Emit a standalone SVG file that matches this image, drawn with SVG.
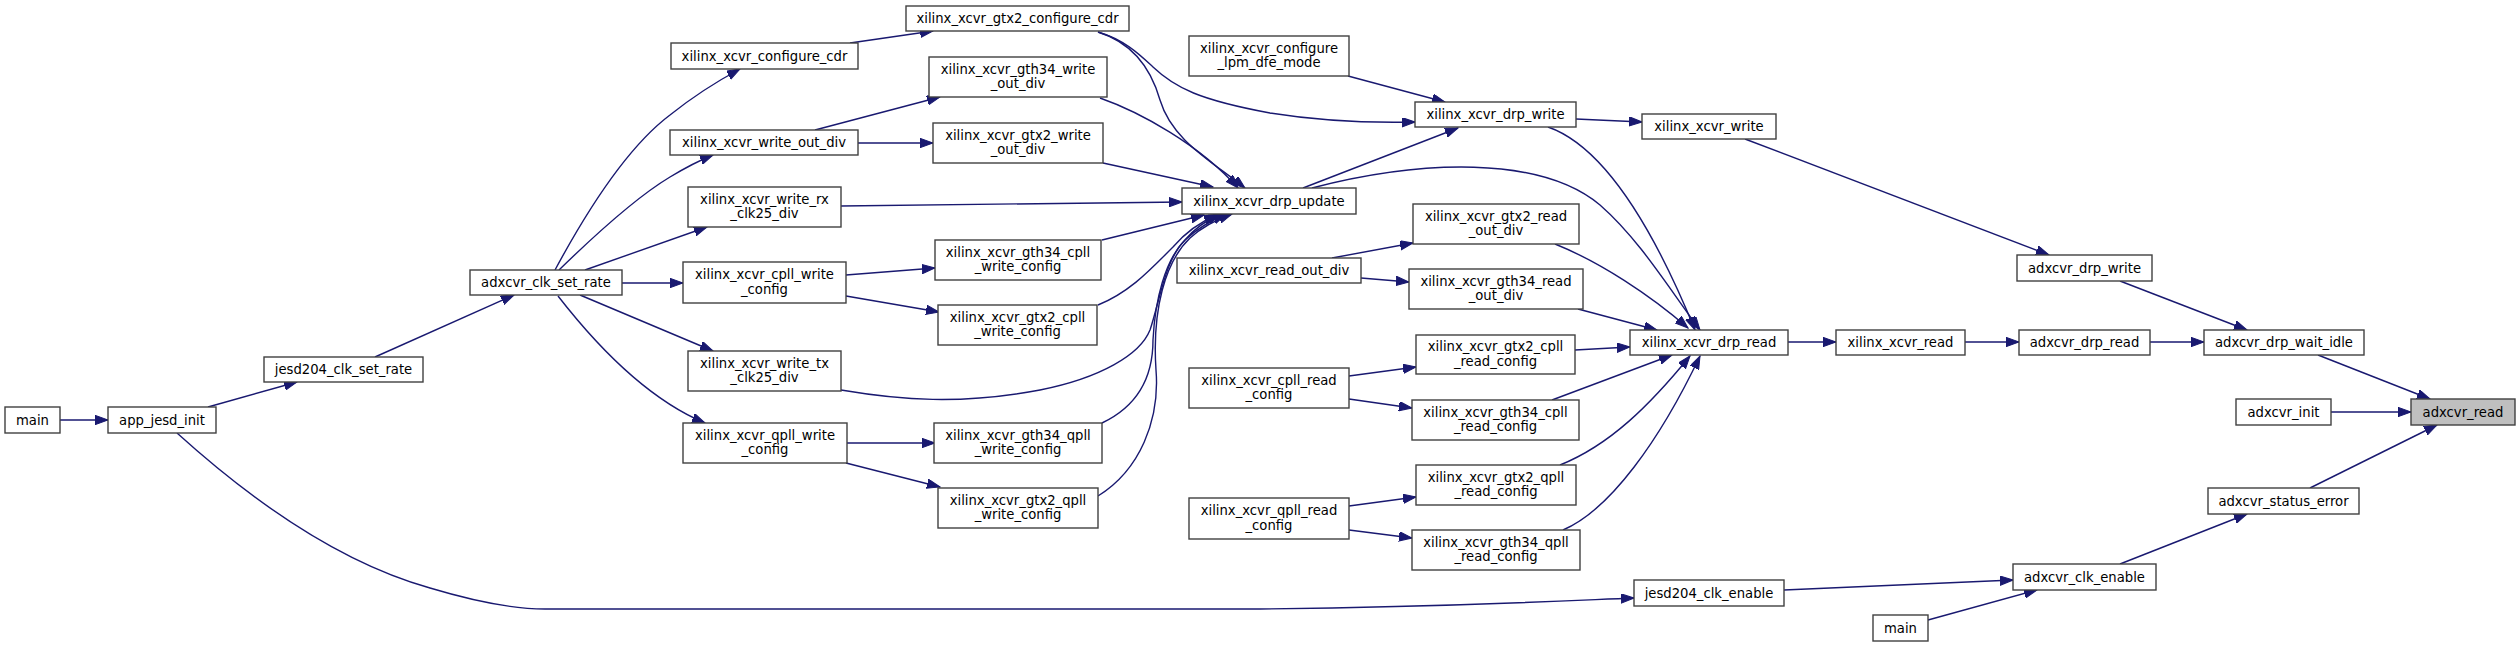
<svg xmlns="http://www.w3.org/2000/svg" width="2520" height="647" viewBox="0 0 2520 647">
<style>
.n rect{fill:#ffffff;stroke:#404040;stroke-width:1.4}
.n.hl rect{fill:#bfbfbf}
.n text{font-family:"DejaVu Sans",sans-serif;font-size:13.2px;fill:#000;text-anchor:middle}
.e path{fill:none;stroke:#191970;stroke-width:1.4;marker-end:url(#ah)}
</style>
<defs>
<marker id="ah" markerUnits="userSpaceOnUse" markerWidth="14" markerHeight="10" refX="13" refY="4.7" orient="auto">
<path d="M0,0 L13,4.7 L0,9.4 z" fill="#191970" stroke="#191970" stroke-width="1"/>
</marker>
</defs>
<rect width="2520" height="647" fill="#ffffff"/>
<g id="edges" class="e">
<path d="M60,420 L108,420"/>
<path d="M208,407 L297,382"/>
<path d="M177,433 C240,490 330,560 430,588 C470,600 510,609 545,609 L1260,609 C1450,607 1560,601 1634,598"/>
<path d="M375,357 L514,295"/>
<path d="M555,270 C590,205 630,145 670,115 C690,99 712,84 740,69"/>
<path d="M559,270 C600,230 640,195 670,177 C685,168 698,161 713,155"/>
<path d="M585,270 L707,227"/>
<path d="M622,283 L683,283"/>
<path d="M580,295 L713,351"/>
<path d="M558,296 C600,350 650,400 705,423"/>
<path d="M850,43 L933,31"/>
<path d="M815,130 L940,97"/>
<path d="M858,143 L933,143"/>
<path d="M846,275 L935,268"/>
<path d="M846,296 L939,312"/>
<path d="M847,443 L935,443"/>
<path d="M846,463 L940,487"/>
<path d="M1100,98 C1140,112 1200,145 1238,188"/>
<path d="M1098,32 C1130,42 1150,65 1160,100 C1172,140 1210,160 1245,188"/>
<path d="M1098,32 C1125,40 1140,55 1153,67 C1175,88 1200,100 1270,113 C1320,121 1370,123 1415,122"/>
<path d="M1103,163 L1213,187"/>
<path d="M841,206 L1182,202"/>
<path d="M1102,240 L1204,215"/>
<path d="M1098,305 C1130,292 1150,270 1173,247 C1185,233 1200,222 1217,215"/>
<path d="M841,390 C900,400 960,405 1040,390 C1100,378 1140,355 1150,330 C1160,300 1165,260 1185,240 C1195,228 1207,220 1220,214"/>
<path d="M1102,423 C1140,405 1153,375 1153,340 C1155,300 1165,260 1185,240 C1198,228 1212,220 1226,214"/>
<path d="M1098,496 C1140,470 1160,420 1156,370 C1152,310 1165,262 1190,238 C1203,226 1218,219 1232,214"/>
<path d="M1303,188 L1458,128"/>
<path d="M1312,188 C1420,160 1540,155 1600,205 C1640,240 1670,290 1700,330"/>
<path d="M1348,76 L1445,102"/>
<path d="M1576,119 L1642,122"/>
<path d="M1548,127 C1600,145 1650,220 1695,330"/>
<path d="M1555,244 C1600,262 1650,295 1688,328"/>
<path d="M1578,309 L1657,330"/>
<path d="M1332,258 L1413,243"/>
<path d="M1361,278 L1409,282"/>
<path d="M1575,350 L1630,347"/>
<path d="M1552,400 L1672,355"/>
<path d="M1560,465 C1610,445 1650,405 1690,356"/>
<path d="M1563,530 C1610,510 1660,440 1700,356"/>
<path d="M1349,376 L1416,367"/>
<path d="M1349,399 L1412,408"/>
<path d="M1349,506 L1416,497"/>
<path d="M1349,530 L1412,538"/>
<path d="M1788,342 L1836,342"/>
<path d="M1965,342 L2019,342"/>
<path d="M2150,342 L2204,342"/>
<path d="M1745,139 L2049,255"/>
<path d="M2120,281 L2247,330"/>
<path d="M2318,355 L2430,399"/>
<path d="M2331,412 L2411,412"/>
<path d="M2310,488 L2437,425"/>
<path d="M2120,564 L2247,514"/>
<path d="M1784,590 L2013,580"/>
<path d="M1928,620 L2037,590"/>
</g>
<g id="n_main1" class="n"><rect x="5" y="407" width="55" height="26"/><text x="32.5" y="424.5">main</text></g>
<g id="n_app_jesd_init" class="n"><rect x="108" y="407" width="108" height="26"/><text x="162" y="424.5">app_jesd_init</text></g>
<g id="n_jesd204_clk_set_rate" class="n"><rect x="264" y="357" width="159" height="25"/><text x="343.5" y="374">jesd204_clk_set_rate</text></g>
<g id="n_adxcvr_clk_set_rate" class="n"><rect x="470" y="270" width="152" height="25"/><text x="546" y="287">adxcvr_clk_set_rate</text></g>
<g id="n_configure_cdr" class="n"><rect x="671" y="43" width="187" height="26"/><text x="764.5" y="60.5">xilinx_xcvr_configure_cdr</text></g>
<g id="n_write_out_div" class="n"><rect x="670" y="130" width="188" height="25"/><text x="764" y="147">xilinx_xcvr_write_out_div</text></g>
<g id="n_write_rx_clk25_div" class="n"><rect x="688" y="187" width="153" height="40"/><text x="764.5" y="203.5">xilinx_xcvr_write_rx</text><text x="764.5" y="218">_clk25_div</text></g>
<g id="n_cpll_write_config" class="n"><rect x="683" y="262" width="163" height="41"/><text x="764.5" y="279">xilinx_xcvr_cpll_write</text><text x="764.5" y="293.5">_config</text></g>
<g id="n_write_tx_clk25_div" class="n"><rect x="688" y="351" width="153" height="40"/><text x="764.5" y="367.5">xilinx_xcvr_write_tx</text><text x="764.5" y="382">_clk25_div</text></g>
<g id="n_qpll_write_config" class="n"><rect x="683" y="423" width="164" height="40"/><text x="765" y="439.5">xilinx_xcvr_qpll_write</text><text x="765" y="454">_config</text></g>
<g id="n_gtx2_configure_cdr" class="n"><rect x="906" y="6" width="223" height="25"/><text x="1017.5" y="23">xilinx_xcvr_gtx2_configure_cdr</text></g>
<g id="n_gth34_write_out_div" class="n"><rect x="929" y="57" width="178" height="40"/><text x="1018" y="73.5">xilinx_xcvr_gth34_write</text><text x="1018" y="88">_out_div</text></g>
<g id="n_gtx2_write_out_div" class="n"><rect x="933" y="123" width="170" height="40"/><text x="1018" y="139.5">xilinx_xcvr_gtx2_write</text><text x="1018" y="154">_out_div</text></g>
<g id="n_gth34_cpll_write_config" class="n"><rect x="935" y="240" width="166" height="40"/><text x="1018" y="256.5">xilinx_xcvr_gth34_cpll</text><text x="1018" y="271">_write_config</text></g>
<g id="n_gtx2_cpll_write_config" class="n"><rect x="938" y="305" width="159" height="40"/><text x="1017.5" y="321.5">xilinx_xcvr_gtx2_cpll</text><text x="1017.5" y="336">_write_config</text></g>
<g id="n_gth34_qpll_write_config" class="n"><rect x="934" y="423" width="168" height="40"/><text x="1018" y="439.5">xilinx_xcvr_gth34_qpll</text><text x="1018" y="454">_write_config</text></g>
<g id="n_gtx2_qpll_write_config" class="n"><rect x="938" y="488" width="160" height="40"/><text x="1018" y="504.5">xilinx_xcvr_gtx2_qpll</text><text x="1018" y="519">_write_config</text></g>
<g id="n_drp_update" class="n"><rect x="1182" y="188" width="174" height="26"/><text x="1269" y="205.5">xilinx_xcvr_drp_update</text></g>
<g id="n_lpm_dfe_mode" class="n"><rect x="1189" y="36" width="160" height="40"/><text x="1269" y="52.5">xilinx_xcvr_configure</text><text x="1269" y="67">_lpm_dfe_mode</text></g>
<g id="n_read_out_div" class="n"><rect x="1177" y="258" width="184" height="25"/><text x="1269" y="275">xilinx_xcvr_read_out_div</text></g>
<g id="n_cpll_read_config" class="n"><rect x="1189" y="368" width="160" height="40"/><text x="1269" y="384.5">xilinx_xcvr_cpll_read</text><text x="1269" y="399">_config</text></g>
<g id="n_qpll_read_config" class="n"><rect x="1189" y="498" width="160" height="41"/><text x="1269" y="515">xilinx_xcvr_qpll_read</text><text x="1269" y="529.5">_config</text></g>
<g id="n_drp_write" class="n"><rect x="1415" y="102" width="161" height="25"/><text x="1495.5" y="119">xilinx_xcvr_drp_write</text></g>
<g id="n_gtx2_read_out_div" class="n"><rect x="1413" y="204" width="166" height="40"/><text x="1496" y="220.5">xilinx_xcvr_gtx2_read</text><text x="1496" y="235">_out_div</text></g>
<g id="n_gth34_read_out_div" class="n"><rect x="1409" y="269" width="174" height="40"/><text x="1496" y="285.5">xilinx_xcvr_gth34_read</text><text x="1496" y="300">_out_div</text></g>
<g id="n_gtx2_cpll_read_config" class="n"><rect x="1416" y="335" width="159" height="39"/><text x="1495.5" y="351">xilinx_xcvr_gtx2_cpll</text><text x="1495.5" y="365.5">_read_config</text></g>
<g id="n_gth34_cpll_read_config" class="n"><rect x="1412" y="400" width="167" height="40"/><text x="1495.5" y="416.5">xilinx_xcvr_gth34_cpll</text><text x="1495.5" y="431">_read_config</text></g>
<g id="n_gtx2_qpll_read_config" class="n"><rect x="1416" y="465" width="160" height="40"/><text x="1496" y="481.5">xilinx_xcvr_gtx2_qpll</text><text x="1496" y="496">_read_config</text></g>
<g id="n_gth34_qpll_read_config" class="n"><rect x="1412" y="530" width="168" height="40"/><text x="1496" y="546.5">xilinx_xcvr_gth34_qpll</text><text x="1496" y="561">_read_config</text></g>
<g id="n_jesd204_clk_enable" class="n"><rect x="1634" y="580" width="150" height="26"/><text x="1709" y="597.5">jesd204_clk_enable</text></g>
<g id="n_xilinx_xcvr_write" class="n"><rect x="1642" y="114" width="134" height="25"/><text x="1709" y="131">xilinx_xcvr_write</text></g>
<g id="n_drp_read" class="n"><rect x="1630" y="330" width="158" height="25"/><text x="1709" y="347">xilinx_xcvr_drp_read</text></g>
<g id="n_xilinx_xcvr_read" class="n"><rect x="1836" y="330" width="129" height="25"/><text x="1900.5" y="347">xilinx_xcvr_read</text></g>
<g id="n_adxcvr_drp_read" class="n"><rect x="2019" y="330" width="131" height="25"/><text x="2084.5" y="347">adxcvr_drp_read</text></g>
<g id="n_adxcvr_drp_write" class="n"><rect x="2017" y="255" width="135" height="26"/><text x="2084.5" y="272.5">adxcvr_drp_write</text></g>
<g id="n_adxcvr_clk_enable" class="n"><rect x="2013" y="564" width="143" height="26"/><text x="2084.5" y="581.5">adxcvr_clk_enable</text></g>
<g id="n_main2" class="n"><rect x="1873" y="615" width="55" height="26"/><text x="1900.5" y="632.5">main</text></g>
<g id="n_adxcvr_drp_wait_idle" class="n"><rect x="2204" y="330" width="160" height="25"/><text x="2284" y="347">adxcvr_drp_wait_idle</text></g>
<g id="n_adxcvr_init" class="n"><rect x="2236" y="399" width="95" height="26"/><text x="2283.5" y="416.5">adxcvr_init</text></g>
<g id="n_adxcvr_status_error" class="n"><rect x="2208" y="488" width="151" height="26"/><text x="2283.5" y="505.5">adxcvr_status_error</text></g>
<g id="n_adxcvr_read" class="n hl"><rect x="2411" y="399" width="104" height="26"/><text x="2463" y="416.5">adxcvr_read</text></g>
</svg>
